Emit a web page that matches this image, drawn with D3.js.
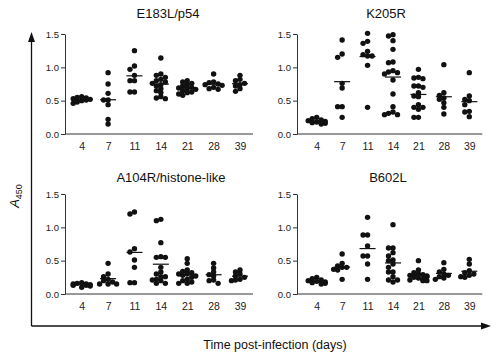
<!DOCTYPE html>
<html>
<head>
<meta charset="utf-8">
<script src="https://cdn.jsdelivr.net/npm/d3@7"></script>
<style>
  body { margin: 0; background: #fff; }
  svg { font-family: "Liberation Sans", Arial, sans-serif; }
</style>
</head>
<body>
<div id="chart"></div>
<script>
// data (A450 per animal, line = mean)
var days = ["4", "7", "11", "14", "21", "28", "39"];
var panelNames = ["E183L/p54", "K205R", "A104R/histone-like", "B602L"];
var yTicks = [0, 0.5, 1.0, 1.5];

var e183l = [
  [0.56, 0.55, 0.53, 0.52, 0.50, 0.48, 0.54, 0.51, 0.46],
  [0.92, 0.75, 0.61, 0.51, 0.51, 0.44, 0.22, 0.15],
  [1.25, 1.02, 0.97, 0.88, 0.80, 0.80, 0.63, 0.63],
  [1.14, 0.90, 0.88, 0.85, 0.82, 0.80, 0.78, 0.76, 0.74, 0.72, 0.68, 0.65, 0.62, 0.56, 0.54, 0.53],
  [0.80, 0.78, 0.76, 0.74, 0.72, 0.70, 0.69, 0.68, 0.67, 0.65, 0.63, 0.62, 0.60, 0.58],
  [0.90, 0.78, 0.77, 0.75, 0.74, 0.73, 0.70, 0.68, 0.67],
  [0.88, 0.82, 0.80, 0.76, 0.74, 0.72, 0.68, 0.64]
];
var k205r = [
  [0.25, 0.23, 0.21, 0.20, 0.19, 0.18, 0.17, 0.16, 0.15],
  [1.41, 1.20, 1.15, 0.76, 0.69, 0.41, 0.41, 0.25],
  [1.51, 1.39, 1.36, 1.24, 1.19, 1.17, 1.17, 1.03, 0.40],
  [1.49, 1.47, 1.40, 1.27, 1.08, 1.07, 0.95, 0.93, 0.92, 0.90, 0.81, 0.60, 0.41, 0.33, 0.31, 0.29, 0.29],
  [0.97, 0.85, 0.84, 0.83, 0.70, 0.72, 0.72, 0.62, 0.56, 0.57, 0.44, 0.40, 0.40, 0.37, 0.25, 0.25],
  [1.04, 0.62, 0.58, 0.54, 0.52, 0.47, 0.40, 0.30],
  [0.92, 0.57, 0.52, 0.50, 0.44, 0.34, 0.33, 0.26]
];
var a104r = [
  [0.17, 0.16, 0.15, 0.15, 0.14, 0.13, 0.13, 0.12, 0.10],
  [0.46, 0.30, 0.26, 0.22, 0.20, 0.18, 0.15, 0.15, 0.15],
  [1.23, 1.20, 0.68, 0.63, 0.51, 0.40, 0.17, 0.17],
  [1.12, 1.10, 0.77, 0.56, 0.55, 0.55, 0.40, 0.33, 0.30, 0.26, 0.26, 0.22, 0.21, 0.20, 0.16, 0.16],
  [0.53, 0.46, 0.36, 0.34, 0.32, 0.30, 0.30, 0.28, 0.27, 0.25, 0.22, 0.20, 0.18, 0.16, 0.16],
  [0.46, 0.39, 0.33, 0.29, 0.27, 0.21, 0.20, 0.16],
  [0.36, 0.33, 0.30, 0.27, 0.25, 0.22, 0.21, 0.20]
];
var b602l = [
  [0.25, 0.23, 0.21, 0.20, 0.19, 0.18, 0.17, 0.16, 0.15],
  [0.60, 0.46, 0.42, 0.40, 0.40, 0.37, 0.36, 0.22],
  [1.15, 0.885, 0.885, 0.72, 0.57, 0.57, 0.45, 0.22],
  [1.04, 0.69, 0.69, 0.62, 0.57, 0.51, 0.50, 0.45, 0.40, 0.33, 0.33, 0.26, 0.21, 0.21, 0.18],
  [0.50, 0.36, 0.32, 0.30, 0.29, 0.28, 0.27, 0.26, 0.25, 0.24, 0.22, 0.21, 0.20, 0.20],
  [0.47, 0.37, 0.33, 0.30, 0.28, 0.26, 0.24, 0.22],
  [0.52, 0.45, 0.35, 0.32, 0.30, 0.28, 0.26, 0.25]
];
var panelData = [e183l, k205r, a104r, b602l];
//

var width = 500, height = 360;
var svg = d3.select("#chart").append("svg")
    .attr("width", width)
    .attr("height", height);

// panel positions
var panels = [
  { axisX: 65,  x0: 81.7,  x1: 240,   top: 34,  bottom: 134, titleX: 168, titleY: 18 },
  { axisX: 297, x0: 316.7, x1: 469.3, top: 34,  bottom: 134, titleX: 386, titleY: 18 },
  { axisX: 65,  x0: 81.7,  x1: 240,   top: 194, bottom: 294, titleX: 171, titleY: 182 },
  { axisX: 297, x0: 316.7, x1: 469.3, top: 194, bottom: 294, titleX: 388, titleY: 182 }
];

var axisColor = "#333",
    r = 2.7;

panels.forEach(function(p, i) {
  var g = svg.append("g");
  var x = d3.scalePoint().domain(days).range([p.x0, p.x1]);
  var y = d3.scaleLinear().domain([0, 1.5]).range([p.bottom, p.top]);

  // y axis
  var yAxis = g.append("g")
      .attr("transform", "translate(" + p.axisX + ",0)")
      .call(d3.axisLeft(y).tickValues(yTicks).tickFormat(d3.format(".1f"))
        .tickSize(4).tickSizeOuter(0).tickPadding(2));
  yAxis.selectAll("path, line").attr("stroke", axisColor);
  yAxis.selectAll("text").attr("fill", "#222").style("font-size", "9.5px")
      .style("font-family", "Liberation Sans, Arial, sans-serif");

  // x axis
  var xAxis = g.append("g")
      .attr("transform", "translate(0," + p.bottom + ")")
      .call(d3.axisBottom(x).tickSize(0).tickPadding(9));
  xAxis.select(".domain").remove();
  xAxis.selectAll("text").attr("fill", "#222").style("font-size", "10.5px")
      .style("font-family", "Liberation Sans, Arial, sans-serif");
  g.append("line")
      .attr("x1", p.axisX).attr("x2", x(days[days.length - 1]) + 13)
      .attr("y1", p.bottom).attr("y2", p.bottom)
      .attr("stroke", axisColor);

  // title
  g.append("text")
      .attr("x", p.titleX).attr("y", p.titleY)
      .attr("text-anchor", "middle")
      .style("font-size", "13px")
      .attr("fill", "#111")
      .text(panelNames[i]);

  // dots, spread sideways a little so they do not all sit on top of each other
  panelData[i].forEach(function(vals, j) {
    var cx = x(days[j]);
    var placed = [];
    vals.slice().sort(d3.descending).forEach(function(v, k) {
      var py = y(v);
      var offs = [0, -4.5, 4.5, -8.5, 8.5];
      var off = offs.find(function(o) {
        return placed.every(function(q) {
          var dx = q[0] - o, dy = q[1] - py;
          return dx * dx + dy * dy >= 4 * 4;
        });
      });
      if (off === undefined) off = offs[(k % 4) + 1];
      placed.push([off, py]);
    });
    g.selectAll(null).data(placed).enter().append("circle")
        .attr("cx", function(d) { return cx + d[0]; })
        .attr("cy", function(d) { return d[1]; })
        .attr("r", r)
        .attr("fill", "#111");

    var m = d3.mean(vals);
    g.append("line")
        .attr("x1", cx - 8).attr("x2", cx + 8)
        .attr("y1", y(m)).attr("y2", y(m))
        .attr("stroke", "#111")
        .attr("stroke-width", 1.2);
  });
});

// big outer arrows
var arrowX = 31.5, arrowY = 326;
svg.append("line")
    .attr("x1", arrowX).attr("x2", arrowX)
    .attr("y1", arrowY).attr("y2", 40)
    .attr("stroke", "#111").attr("stroke-width", 1.3);
svg.append("path")
    .attr("d", "M" + arrowX + ",32L" + (arrowX - 3.5) + ",42L" + (arrowX + 3.5) + ",42Z")
    .attr("fill", "#111");
svg.append("line")
    .attr("x1", arrowX).attr("x2", 482)
    .attr("y1", arrowY).attr("y2", arrowY)
    .attr("stroke", "#111").attr("stroke-width", 1.3);
svg.append("path")
    .attr("d", "M491," + arrowY + "L481," + (arrowY - 3.5) + "L481," + (arrowY + 3.5) + "Z")
    .attr("fill", "#111");

// axis titles
var yt = svg.append("text")
    .attr("transform", "translate(19,196) rotate(-90)")
    .attr("text-anchor", "middle")
    .style("font-size", "13px")
    .attr("fill", "#111");
yt.append("tspan").style("font-style", "italic").text("A");
yt.append("tspan").attr("dy", 3).style("font-size", "9px").text("450");

svg.append("text")
    .attr("x", 275).attr("y", 349)
    .attr("text-anchor", "middle")
    .style("font-size", "12.5px")
    .attr("fill", "#111")
    .text("Time post-infection (days)");
</script>
</body>
</html>
